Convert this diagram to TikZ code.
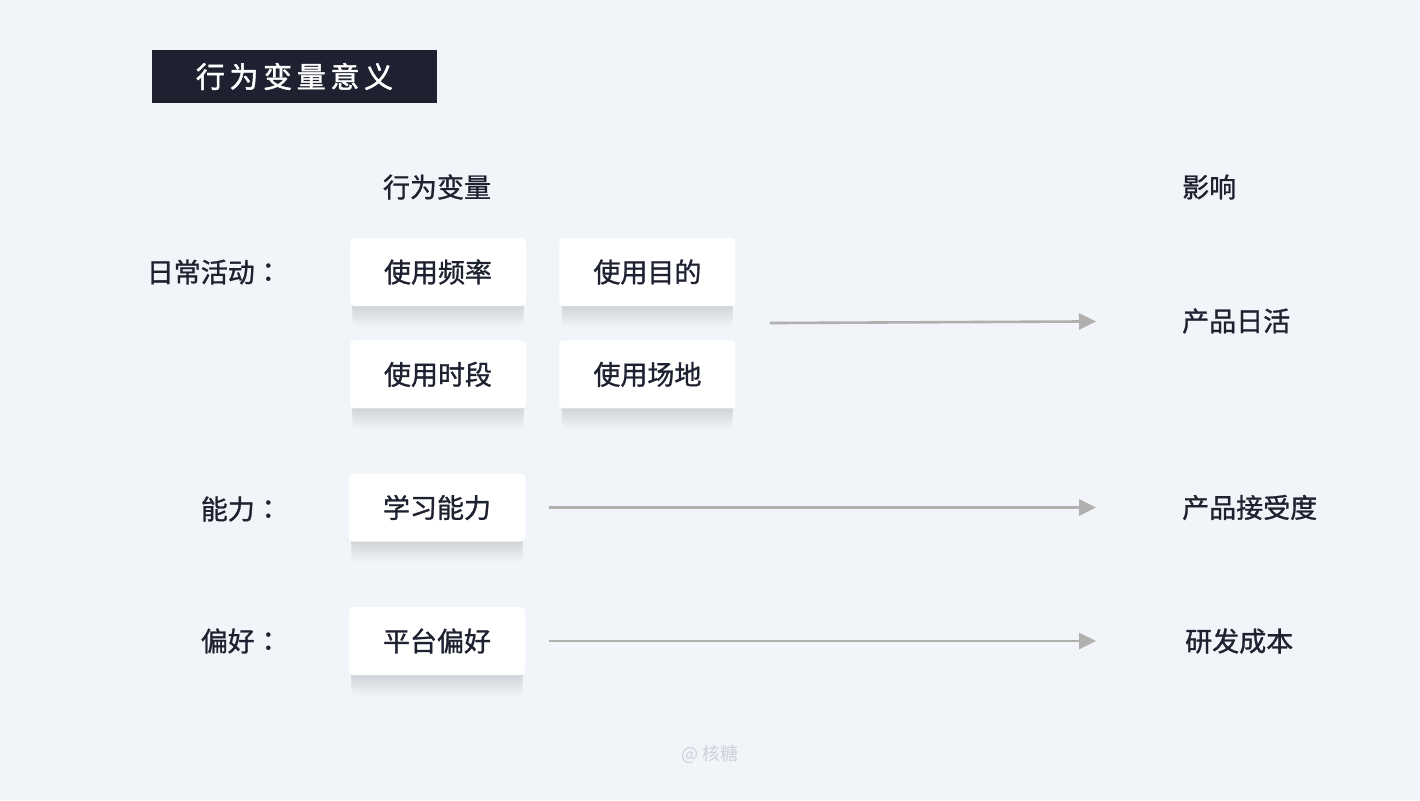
\documentclass[tikz,border=0pt]{standalone}
\usepackage{fontspec}
\setmainfont{Noto Sans CJK SC}
\newfontfamily\medfont{Noto Sans CJK SC}[FakeBold=1.1]
\newfontfamily\tcfont{Noto Sans CJK TC}[FakeBold=1.1]
\usepackage{tikz}
\usetikzlibrary{arrows.meta,positioning,fit,shadows}
\definecolor{ink}{RGB}{30,34,48}
\definecolor{paper}{RGB}{241,244,249}
\definecolor{arrowc}{RGB}{178,175,175}
\definecolor{markc}{RGB}{206,209,216}
\newcommand{\rowcolon}{{\tcfont ：}}
\tikzset{soft/.style={general shadow={fill=ink,opacity=0.011,shadow yshift=-#1pt,shadow scale=0.975}},vbox/.style={fill=white,rounded corners=4pt,minimum width=176pt,minimum height=68pt,inner sep=0pt,text=ink,font=\medfont\fontsize{27}{32}\selectfont,soft=2,soft=4,soft=6,soft=8,soft=10,soft=12,soft=14,soft=16,soft=18,soft=20,soft=22},lbl/.style={inner sep=0pt,text=ink,font=\medfont\fontsize{27}{32}\selectfont},flow/.style={-{Triangle[length=17pt,width=16pt]},line width=2.6pt,draw=arrowc},head/.style={fill=ink,text=white,minimum width=285pt,minimum height=53pt,inner sep=0pt,font=\medfont\addfontfeatures{LetterSpace=16,FakeBold=1.6}\fontsize{29}{34}\selectfont}}
\begin{document}
\begin{tikzpicture}[x=1pt,y=-1pt,node distance=33pt]
\useasboundingbox[fill=paper] (0,0) rectangle (1420,800);
\node[head] (title) at (294.5,76.5) {行为变量意义};
\node[lbl] (colvar) at (437,187) {行为变量};
\node[lbl,anchor=west] (colimp) at (1182,187) {影响};
% daily activity
\node[vbox] (freq) at (438,272) {使用频率};
\node[vbox,right=of freq] (goal) {使用目的};
\node[vbox,below=34pt of freq] (time) {使用时段};
\node[vbox,right=of time] (place) {使用场地};
\node[fit=(freq)(goal)(time)(place),inner sep=0pt] (daily) {};
\node[lbl,anchor=east] (rowdaily) at (282,272) {日常活动\rowcolon};
\node[lbl,anchor=west] (dau) at (1182,321) {产品日活};
% ability, preference
\node[vbox] (learn) at (437,507.5) {学习能力};
\node[vbox] (plat) at (437,641) {平台偏好};
\node[lbl,anchor=east] (rowskill) at (282,509) {能力\rowcolon};
\node[lbl,anchor=east] (rowpref) at (282,641) {偏好\rowcolon};
\node[lbl,anchor=west] (accept) at (1182,507.5) {产品接受度};
\node[lbl,anchor=west] (cost) at (1185,641) {研发成本};
\draw[flow,shorten <=34pt,shorten >=86pt] (daily.east)--(dau.west);
\draw[flow,shorten <=24pt,shorten >=86pt] (learn.east)--(accept.west);
\draw[flow,shorten <=24pt,shorten >=89pt] (plat.east)--(cost.west);
\node[text=markc,font=\fontsize{18}{21}\selectfont] (mark) at (710,754) {@ 核糖};
\end{tikzpicture}
\end{document}
